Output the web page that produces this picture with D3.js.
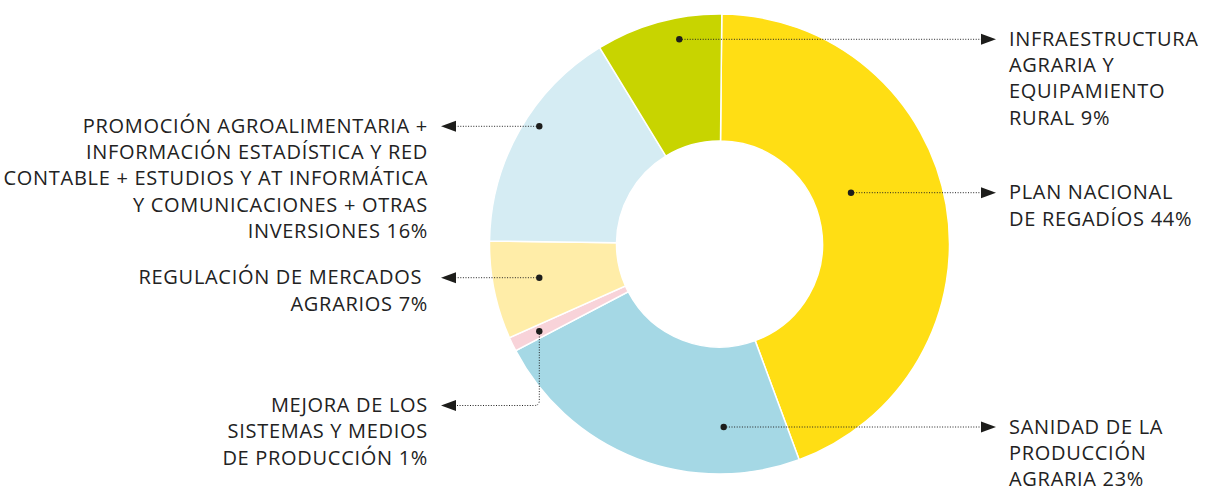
<!DOCTYPE html>
<html>
<head>
<meta charset="utf-8">
<script src="https://cdn.jsdelivr.net/npm/d3@7"></script>
<style>
  html, body { margin: 0; padding: 0; background: #fff; }
  svg text { font-family: "Open Sans", "Noto Sans", sans-serif; fill: #222; letter-spacing: 0.7px; }
</style>
</head>
<body>
<svg id="chart" width="1206" height="488"></svg>
<script>
// Data (clockwise from 12 o'clock)
const categories = [
  "Plan Nacional de Regadíos",
  "Sanidad de la Producción Agraria",
  "Mejora de los Sistemas y Medios de Producción",
  "Regulación de Mercados Agrarios",
  "Promoción Agroalimentaria + otras",
  "Infraestructura Agraria y Equipamiento Rural"
];
const values = [44.3, 23.0, 1.0, 6.9, 16.1, 8.9];
const colors = ["#ffde14", "#a5d8e5", "#f8d3d9", "#ffeda8", "#d5ecf3", "#c8d400"];
const labelLines = [
  ["PLAN NACIONAL", "DE REGADÍOS 44%"],
  ["SANIDAD DE LA", "PRODUCCIÓN", "AGRARIA 23%"],
  ["MEJORA DE LOS", "SISTEMAS Y MEDIOS", "DE PRODUCCIÓN 1%"],
  ["REGULACIÓN DE MERCADOS ", "AGRARIOS 7%"],
  ["PROMOCIÓN AGROALIMENTARIA +", "INFORMACIÓN ESTADÍSTICA Y RED", "CONTABLE + ESTUDIOS Y AT INFORMÁTICA", "Y COMUNICACIONES + OTRAS", "INVERSIONES 16%"],
  ["INFRAESTRUCTURA", "AGRARIA Y", "EQUIPAMIENTO", "RURAL 9%"]
];

// Layout of the callouts: dot offset from centre, side, elbow
const callouts = [
  { dx: 131.5, dy: -51.3, side: "right" },
  { dx: 4.2, dy: 183, side: "right" },
  { dx: -180.2, dy: 87.3, side: "left", elbowY: 161.5 },
  { dx: -180.2, dy: 33.7, side: "left" },
  { dx: -180.2, dy: -117.7, side: "left" },
  { dx: -40.2, dy: -204.7, side: "right" }
];

const cx = 719.5, cy = 244, outerR = 230, innerR = 103;
const lineH = 26.3, fontSize = 20;
const rightArrowTip = 996, leftArrowTip = 441, arrowLen = 15;
const rightTextX = 1009, leftTextX = 428;

const svg = d3.select("#chart");
const g = svg.append("g").attr("transform", `translate(${cx},${cy})`);

const pie = d3.pie().sort(null).value(d => d).startAngle(0.01).endAngle(0.01 + 2 * Math.PI);
const arc = d3.arc().innerRadius(innerR).outerRadius(outerR);

g.selectAll("path.slice")
  .data(pie(values))
  .enter().append("path")
  .attr("class", "slice")
  .attr("d", arc)
  .attr("fill", (d, i) => colors[i])
  .attr("stroke", "#fff")
  .attr("stroke-width", 1.5);

// Callouts
const ann = svg.append("g");
callouts.forEach((c, i) => {
  const x0 = cx + c.dx, y0 = cy + c.dy;
  const right = c.side === "right";
  const yLine = c.elbowY !== undefined ? cy + c.elbowY : y0;
  const base = right ? rightArrowTip - arrowLen : leftArrowTip + arrowLen;

  let path;
  if (c.elbowY !== undefined) {
    const r = 5;
    path = `M${x0},${y0} V${yLine - r} Q${x0},${yLine} ${x0 - r},${yLine} H${base}`;
  } else {
    path = `M${x0},${y0} H${base}`;
  }
  ann.append("path")
    .attr("d", path)
    .attr("fill", "none")
    .attr("stroke", "#222")
    .attr("stroke-width", 1)
    .attr("stroke-dasharray", "1 1.6");

  ann.append("circle")
    .attr("cx", x0).attr("cy", y0).attr("r", 3.2)
    .attr("fill", "#1d1d1b");

  const tip = right ? rightArrowTip : leftArrowTip;
  ann.append("path")
    .attr("d", `M${tip},${yLine} L${base},${yLine - 5.5} L${base},${yLine + 5.5} Z`)
    .attr("fill", "#1d1d1b");

  const t = ann.append("text")
    .attr("font-size", fontSize)
    .attr("text-anchor", right ? "start" : "end")
    .style("white-space", "pre");
  labelLines[i].forEach((ln, k) => {
    t.append("tspan")
      .attr("x", right ? rightTextX : leftTextX)
      .attr("y", yLine + 6.5 + k * lineH)
      .text(ln);
  });
});
</script>
</body>
</html>
